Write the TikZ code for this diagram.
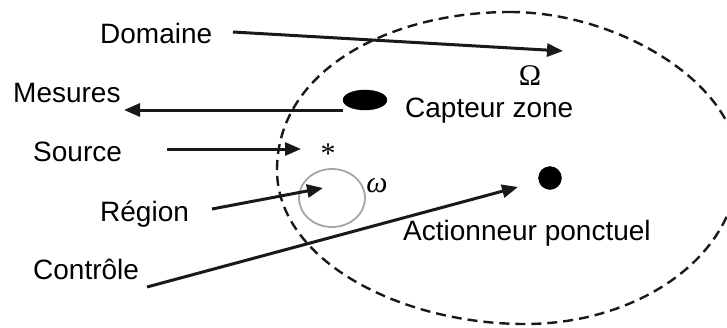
\documentclass[tikz,border=0pt]{standalone}
\usepackage{fontspec}
\setmainfont{Liberation Sans}
\newfontfamily\serifgr{Liberation Serif}
\usetikzlibrary{arrows.meta,shapes.geometric}

\begin{document}
\begin{tikzpicture}[
  x=1pt, y=-1pt,
  font=\fontsize{28}{32}\selectfont,
  lbl/.style={anchor=base west, inner sep=0pt},
  sym/.style={inner sep=0pt, font=\fontsize{30}{34}\selectfont\serifgr},
  fleche/.style={draw=black!90, line width=3pt, -{Triangle[length=16pt,width=13pt]}},
  bord/.style={draw=black!90, line width=2.4pt, dash pattern=on 10pt off 6pt},
  region/.style={draw=black!35, line width=1.8pt}
]
\useasboundingbox (0,0) rectangle (727,327);
\clip (0,0) rectangle (727,327);
% domaine Omega
\draw[bord] (510,12) .. controls (620,12) and (738,85) .. (738,165)
  .. controls (738,255) and (640,324) .. (525,324)
  .. controls (400,324) and (277,260) .. (277,170)
  .. controls (277,70) and (390,12) .. cycle;
% capteur, region, actionneur
\node[draw, fill=black, ellipse, minimum width=44pt, minimum height=20pt, inner sep=0pt] (capteur) at (365,100) {};
\node[region, ellipse, minimum width=66pt, minimum height=58pt, inner sep=0pt] (omega) at (332,198) {};
\node[draw, fill=black, circle, minimum size=23pt, inner sep=0pt] (act) at (550,178) {};
% textes
\node[lbl] (dom) at (100,43) {Domaine};
\node[lbl] (mes) at (13,102) {Mesures};
\node[lbl] (src) at (33,161) {Source};
\node[lbl] (reg) at (100,221) {Région};
\node[lbl] (ctl) at (33,279) {Contrôle};
\node[lbl] (capt) at (405,117) {Capteur zone};
\node[lbl] (actl) at (403,240) {Actionneur ponctuel};
\node[sym, anchor=base] (Om) at (530,85) {Ω};
\node[sym] (om) at (377,186) {\itshape ω};
\node[sym, anchor=base] (ast) at (328,163) {*};
% fleches
\coordinate (domdeb) at (233,32);
\coordinate (domfin) at (563,51);
\coordinate (mesdeb) at (343,110);
\coordinate (mesfin) at (124,110);
\coordinate (srcdeb) at (167,149);
\coordinate (srcfin) at (301,149);
\coordinate (regdeb) at (212,209);
\coordinate (regfin) at (323,188);
\coordinate (ctldeb) at (147,287);
\coordinate (ctlfin) at (518,187);
\draw[fleche] (domdeb) -- (domfin);
\draw[fleche] (mesdeb) -- (mesfin);
\draw[fleche] (srcdeb) -- (srcfin);
\draw[fleche] (regdeb) -- (regfin);
\draw[fleche] (ctldeb) -- (ctlfin);
\end{tikzpicture}
\end{document}
